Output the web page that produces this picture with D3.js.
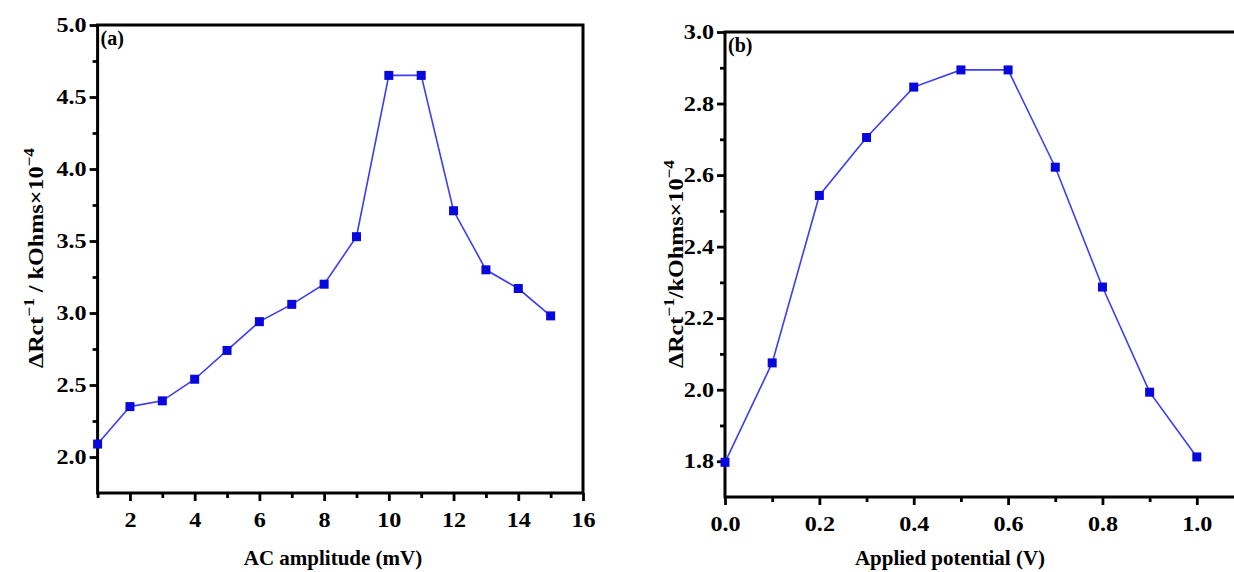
<!DOCTYPE html>
<html><head><meta charset="utf-8">
<script src="https://cdn.jsdelivr.net/npm/d3@7"></script>
<style>
body{margin:0;background:#fff;}
svg text{font-family:'Liberation Serif','Times New Roman',serif;font-weight:bold;fill:#000;}
</style></head>
<body><svg id="c" width="1234" height="572"></svg>
<script>
// Panel (a): AC amplitude
const aAmplitude = [1,2,3,4,5,6,7,8,9,10,11,12,13,14,15];
const aValues = [2.09,2.35,2.39,2.54,2.74,2.94,3.06,3.20,3.53,4.65,4.65,3.71,3.30,3.17,2.98];
const aXTicks = [2,4,6,8,10,12,14,16];
const aXMinor = [1,3,5,7,9,11,13,15];
const aYTicks = [2.0,2.5,3.0,3.5,4.0,4.5,5.0];
const aYMinor = [2.25,2.75,3.25,3.75,4.25,4.75];
// Panel (b): Applied potential
const bPotential = [0.0,0.1,0.2,0.3,0.4,0.5,0.6,0.7,0.8,0.9,1.0];
const bValues = [1.797,2.075,2.543,2.705,2.846,2.894,2.894,2.622,2.287,1.993,1.812];
const bXTicks = [0.0,0.2,0.4,0.6,0.8,1.0];
const bXMinor = [0.1,0.3,0.5,0.7,0.9];
const bYTicks = [1.8,2.0,2.2,2.4,2.6,2.8,3.0];
const bYMinor = [1.9,2.1,2.3,2.5,2.7,2.9];

const svg = d3.select('#c');
const SX = 1.15;

function panel(o){
  const x = d3.scaleLinear().domain(o.xd).range([o.l, o.r]);
  const y = d3.scaleLinear().domain(o.yd).range([o.b, o.t]);
  const g = svg.append('g');
  const styleAxis = sel => {
    sel.select('.domain').remove();
    sel.selectAll('line').attr('stroke','#000').attr('stroke-width',2.8);
    sel.selectAll('text').style('font-size','21px').style('font-family',"'Liberation Serif',serif").style('font-weight','bold');
  };
  g.append('g').attr('transform',`translate(0,${o.b})`)
    .call(d3.axisBottom(x).tickValues(o.xt).tickFormat(o.xf).tickSize(8).tickPadding(11)).call(styleAxis)
    .selectAll('text').attr('transform',`scale(${SX},1)`);
  g.append('g').attr('transform',`translate(0,${o.b})`)
    .call(d3.axisBottom(x).tickValues(o.xm).tickFormat('').tickSize(5)).call(styleAxis);
  g.append('g').attr('transform',`translate(${o.l},0)`)
    .call(d3.axisLeft(y).tickValues(o.yt).tickFormat(o.yf).tickSize(8).tickPadding(3)).call(styleAxis)
    .selectAll('text').attr('x',-11/SX).attr('transform',`scale(${SX},1)`);
  g.append('g').attr('transform',`translate(${o.l},0)`)
    .call(d3.axisLeft(y).tickValues(o.ym).tickFormat('').tickSize(5)).call(styleAxis);
  g.append('path')
    .attr('d', o.frame)
    .attr('fill','none').attr('stroke','#000').attr('stroke-width',3);
  const pts = o.xs.map((v,i)=>[v,o.ys[i]]);
  g.append('path').datum(pts)
    .attr('d', d3.line().x(d=>x(d[0])).y(d=>y(d[1])))
    .attr('fill','none').attr('stroke','#3d3df2').attr('stroke-width',1.6);
  g.selectAll('rect.m').data(pts).enter().append('rect')
    .attr('x',d=>x(d[0])-4.5).attr('y',d=>y(d[1])-4.5)
    .attr('width',9).attr('height',9).attr('fill','#0808dc');
  g.append('text').attr('x',o.l+3).attr('y',o.t+20).style('font-size','20px').text(o.tag);
  g.append('text').attr('x',o.xtx).attr('y',565).attr('text-anchor','middle').style('font-size','21px').text(o.xTitle);
  const yt = g.append('text').attr('transform',`translate(${o.ytx},${o.yty}) rotate(-90) scale(${SX},1)`)
    .attr('text-anchor','middle').style('font-size','21px');
  yt.append('tspan').text('\u0394Rct');
  yt.append('tspan').attr('dy',-9).style('font-size','15px').text('\u22121');
  yt.append('tspan').attr('dy',9).text(o.mid);
  yt.append('tspan').attr('dy',-9).style('font-size','15px').text('\u22124');
}

panel({xd:[1,16], yd:[1.75,5.0], l:97.6, r:583, t:25, b:493,
  xt:aXTicks, xm:aXMinor, yt:aYTicks, ym:aYMinor,
  xf:d3.format('d'), yf:d3.format('.1f'),
  frame:'M97.6,493 L97.6,25 L583,25 L583,493 Z',
  xs:aAmplitude, ys:aValues, tag:'(a)',
  xtx:333, xTitle:'AC amplitude (mV)', ytx:43, yty:258, mid:' / kOhms\u00d710'});

panel({xd:[0,1.1], yd:[1.7,3.0], l:725, r:1244, t:32, b:497,
  xt:bXTicks, xm:bXMinor, yt:bYTicks, ym:bYMinor,
  xf:d3.format('.1f'), yf:d3.format('.1f'),
  frame:'M725,497 L725,32 L1244,32 L1244,497 Z',
  xs:bPotential, ys:bValues, tag:'(b)',
  xtx:950, xTitle:'Applied potential (V)', ytx:683, yty:264, mid:'/kOhms\u00d710'});
</script></body></html>
